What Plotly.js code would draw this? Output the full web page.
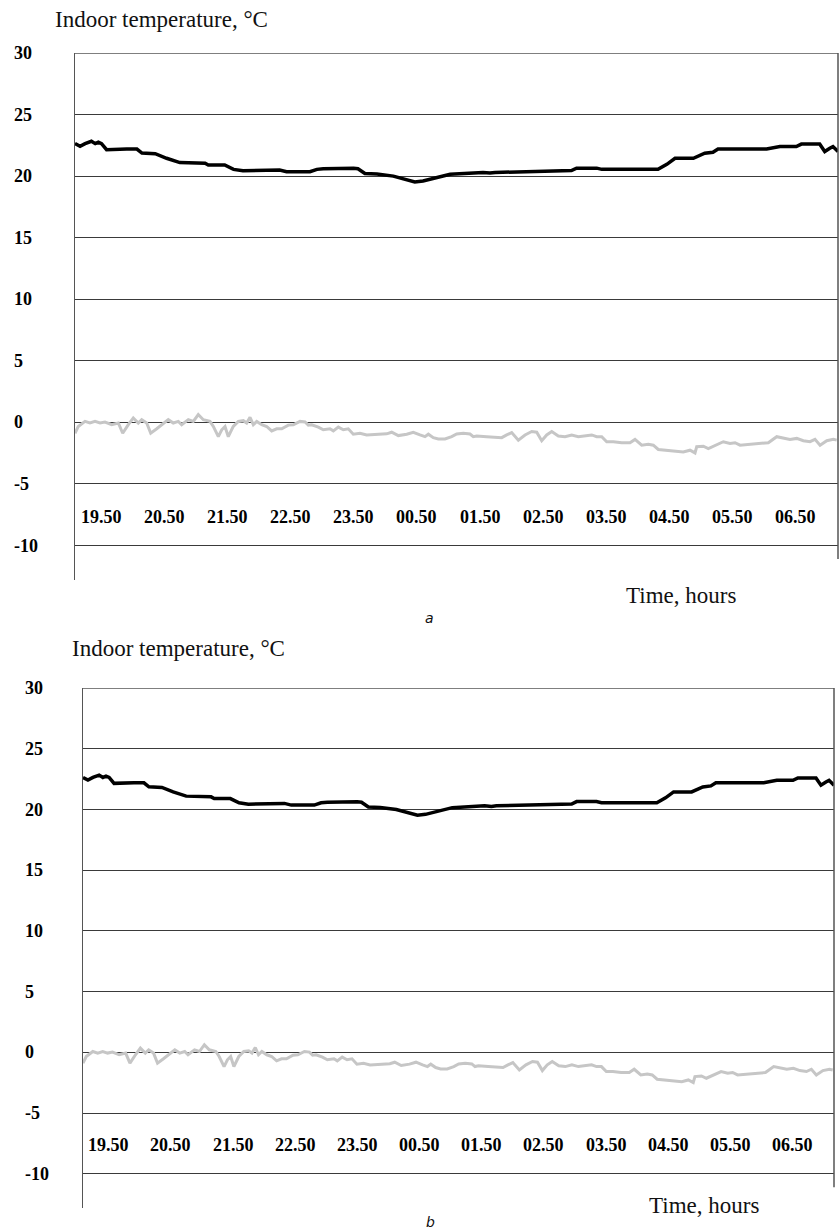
<!DOCTYPE html>
<html>
<head>
<meta charset="utf-8">
<script src="https://cdn.plot.ly/plotly-3.0.1.min.js"></script>
<style>html,body{margin:0;padding:0;background:#fff;}#chart{width:839px;height:1232px;}</style>
</head>
<body>
<div id="chart"></div>
<script>
// Time in hours after 19.00 (0.42 = 19.25, 12.5 = 07.30)
const indoorHours = [0.42,0.50,0.58,0.68,0.74,0.79,0.84,0.92,1.24,1.40,1.48,1.69,1.87,2.08,2.48,2.53,2.79,2.93,3.08,3.38,3.66,3.77,4.14,4.25,4.35,4.83,4.90,5.01,5.20,5.46,5.62,5.80,5.93,6.15,6.36,6.88,6.99,7.07,7.62,8.28,8.36,8.68,8.76,9.65,9.79,9.92,10.21,10.39,10.52,10.60,11.37,11.58,11.84,11.92,12.21,12.29,12.37,12.42,12.50];
const indoorTemp = [22.64,22.42,22.64,22.83,22.64,22.75,22.64,22.15,22.2,22.2,21.87,21.82,21.45,21.1,21.04,20.9,20.9,20.55,20.44,20.5,20.5,20.36,20.36,20.55,20.6,20.63,20.6,20.21,20.17,20.0,19.8,19.53,19.6,19.88,20.15,20.3,20.25,20.3,20.38,20.45,20.65,20.65,20.55,20.55,20.96,21.45,21.45,21.86,21.94,22.2,22.2,22.4,22.4,22.6,22.6,22.0,22.27,22.4,22.0];

const outdoorHours = [0.420,0.472,0.578,0.657,0.737,0.816,0.895,1.001,1.106,1.175,1.264,1.343,1.422,1.476,1.555,1.619,1.714,1.793,1.897,1.976,2.056,2.109,2.214,2.293,2.372,2.451,2.557,2.610,2.689,2.743,2.795,2.847,2.926,3.006,3.085,3.138,3.191,3.243,3.297,3.376,3.455,3.534,3.613,3.693,3.797,3.876,3.982,4.062,4.114,4.168,4.272,4.351,4.457,4.510,4.589,4.668,4.747,4.826,4.932,5.038,5.197,5.355,5.434,5.539,5.672,5.776,5.882,5.961,6.014,6.093,6.172,6.278,6.384,6.463,6.568,6.674,6.726,6.780,6.938,7.176,7.255,7.334,7.439,7.545,7.651,7.730,7.809,7.888,7.968,8.072,8.178,8.284,8.389,8.495,8.601,8.680,8.759,8.838,8.943,9.076,9.207,9.286,9.392,9.497,9.576,9.655,9.841,10.051,10.157,10.236,10.263,10.368,10.447,10.526,10.605,10.684,10.790,10.870,10.949,11.107,11.265,11.397,11.530,11.634,11.740,11.847,11.951,12.057,12.136,12.216,12.322,12.426,12.479];
const outdoorTemp = [-0.88,-0.33,0.08,-0.05,0.08,-0.05,0.03,-0.19,-0.05,-0.88,-0.19,0.36,-0.05,0.22,-0.05,-0.88,-0.52,-0.19,0.22,-0.05,0.08,-0.19,0.22,0.08,0.64,0.22,0.08,-0.33,-1.16,-0.6,-0.33,-1.16,-0.33,0.08,0.14,-0.05,0.41,-0.19,0.08,-0.19,-0.33,-0.69,-0.52,-0.52,-0.22,-0.19,0.08,0.03,-0.22,-0.19,-0.38,-0.6,-0.52,-0.69,-0.38,-0.6,-0.52,-0.96,-0.88,-1.02,-0.96,-0.93,-0.8,-1.07,-0.96,-0.8,-1.02,-1.16,-0.96,-1.24,-1.35,-1.35,-1.16,-0.94,-0.88,-0.94,-1.16,-1.1,-1.16,-1.24,-1.02,-0.83,-1.44,-1.02,-0.74,-0.8,-1.49,-1.02,-0.74,-1.1,-1.16,-1.02,-1.16,-1.1,-1.02,-1.16,-1.16,-1.57,-1.57,-1.65,-1.65,-1.38,-1.85,-1.77,-1.85,-2.2,-2.31,-2.4,-2.26,-2.48,-1.98,-1.93,-2.12,-1.93,-1.77,-1.57,-1.71,-1.65,-1.85,-1.77,-1.71,-1.65,-1.16,-1.24,-1.38,-1.3,-1.49,-1.57,-1.38,-1.85,-1.49,-1.38,-1.44];

const xTickHours = [0.833,1.833,2.833,3.833,4.833,5.833,6.833,7.833,8.833,9.833,10.833,11.833];
const xTickLabels = ['19.50','20.50','21.50','22.50','23.50','00.50','01.50','02.50','03.50','04.50','05.50','06.50'];
const yTickVals = [-10,-5,0,5,10,15,20,25,30];
const yTickLabels = ['-10','-5','0','5','10','15','20','25','30'];
const yTitle = 'Indoor temperature, °C';
const xTitle = 'Time, hours';
const panelLabels = ['a','b'];

const W = 839, H = 1232;
const px = v => v / W;
const py = v => 1 - v / H;

const panels = [
  {xa:'x', ya:'y', dom:[75,838], top:53, bottom:580, tickX:12, titleX:53, titleY:19, xtX:624, xtY:595, lab:[423,618]},
  {xa:'x2', ya:'y2', dom:[83,834], top:688, bottom:1208, tickX:23, titleX:70, titleY:648, xtX:647, xtY:1205, lab:[424,1222]}
];

const serif = 'Liberation Serif, Times New Roman, serif';
const traces = [];
const layout = {
  width: W, height: H,
  margin: {l:0, r:0, t:0, b:0},
  paper_bgcolor: '#fff', plot_bgcolor: '#fff',
  showlegend: false,
  annotations: [], shapes: []
};

panels.forEach((p, i) => {
  const sfx = i === 0 ? '' : '2';
  traces.push({x: outdoorHours, y: outdoorTemp, xaxis: p.xa, yaxis: p.ya, mode: 'lines',
    line: {color: '#c6c6c6', width: 3}, hoverinfo: 'skip'});
  traces.push({x: indoorHours, y: indoorTemp, xaxis: p.xa, yaxis: p.ya, mode: 'lines',
    line: {color: '#000', width: 3.5}, hoverinfo: 'skip'});
  layout['xaxis' + sfx] = {
    domain: [px(p.dom[0]), px(p.dom[1])], range: [0.42, 12.5], anchor: p.ya,
    showgrid: false, zeroline: false, showline: false, showticklabels: false, ticks: ''
  };
  layout['yaxis' + sfx] = {
    domain: [py(p.bottom), py(p.top)], range: [-12.8, 30], anchor: p.xa,
    tickvals: yTickVals.slice(0, -1), showticklabels: false, ticks: '',
    showgrid: true, gridcolor: '#3a3a3a', gridwidth: 1, zeroline: false,
    showline: true, linecolor: '#555', linewidth: 1.5
  };
  // frame: top and right edges
  layout.shapes.push({type:'line', xref: p.xa + ' domain', yref: p.ya, x0:0, x1:1, y0:30, y1:30,
    line:{color:'#555', width:1.5}});
  layout.shapes.push({type:'line', xref: p.xa + ' domain', yref: p.ya, x0:1, x1:1, y0:-11.1, y1:30,
    line:{color:'#555', width:1.5}});
  // y tick labels (left aligned)
  yTickVals.forEach((v, k) => {
    layout.annotations.push({xref:'paper', yref: p.ya, x: px(p.tickX), y: v, xanchor:'left', yanchor:'middle',
      text: '<b>' + yTickLabels[k] + '</b>', showarrow:false, font:{family: serif, size: 18, color:'#000'}});
  });
  // x tick labels inside the plot
  xTickHours.forEach((h, k) => {
    layout.annotations.push({xref: p.xa, yref: p.ya, x: h, y: -7.65, xanchor:'center', yanchor:'middle',
      text: '<b>' + xTickLabels[k] + '</b>', showarrow:false, font:{family: serif, size: 18, color:'#000'}});
  });
  layout.annotations.push({xref:'paper', yref:'paper', x: px(p.titleX), y: py(p.titleY), xanchor:'left', yanchor:'middle',
    text: yTitle, showarrow:false, font:{family: serif, size: 23, color:'#111'}});
  layout.annotations.push({xref:'paper', yref:'paper', x: px(p.xtX), y: py(p.xtY), xanchor:'left', yanchor:'middle',
    text: xTitle, showarrow:false, font:{family: serif, size: 23, color:'#111'}});
  layout.annotations.push({xref:'paper', yref:'paper', x: px(p.lab[0]), y: py(p.lab[1]), xanchor:'left', yanchor:'middle',
    text: '<i>' + panelLabels[i] + '</i>', showarrow:false, font:{family: 'DejaVu Sans, sans-serif', size: 14, color:'#111'}});
});

Plotly.newPlot('chart', traces, layout, {staticPlot: true, displayModeBar: false});
</script>
</body>
</html>
